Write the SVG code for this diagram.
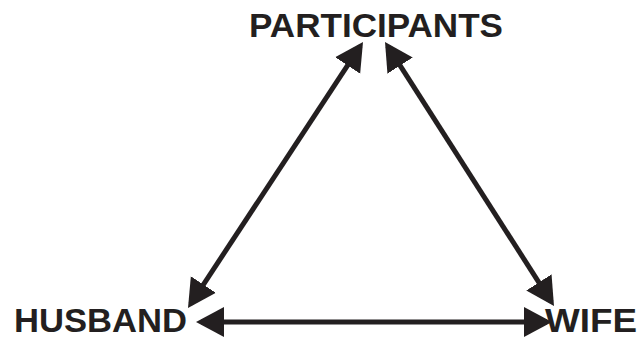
<svg xmlns="http://www.w3.org/2000/svg" width="639" height="339" viewBox="0 0 639 339">
<style>
.lbl{font-family:"Liberation Sans",Arial,sans-serif;font-weight:bold;font-size:34px;fill:#231f20}
.con{stroke:#231f20;stroke-width:5;fill:none}
</style>
<defs>
<marker id="ah" markerUnits="userSpaceOnUse" markerWidth="30" markerHeight="32" viewBox="0 -16 30 32" refX="23" refY="0" orient="auto-start-reverse">
<path d="M0,-15 L28,0 L0,15 z" fill="#231f20"/>
</marker>
</defs>
<rect width="639" height="339" fill="#fff"/>
<g id="connectors">
<line class="con" x1="360.25" y1="46.18" x2="190.75" y2="303.82" marker-start="url(#ah)" marker-end="url(#ah)"/>
<line class="con" x1="387.7" y1="46.2" x2="551.3" y2="301.8" marker-start="url(#ah)" marker-end="url(#ah)"/>
<line class="con" x1="201" y1="322" x2="547" y2="322" marker-start="url(#ah)" marker-end="url(#ah)"/>
</g>
<g id="participants"><text class="lbl" x="249" y="37" textLength="254" lengthAdjust="spacingAndGlyphs">PARTICIPANTS</text></g>
<g id="husband"><text class="lbl" x="14" y="332" textLength="173" lengthAdjust="spacingAndGlyphs">HUSBAND</text></g>
<g id="wife"><text class="lbl" x="545" y="332" textLength="92" lengthAdjust="spacingAndGlyphs">WIFE</text></g>
</svg>
